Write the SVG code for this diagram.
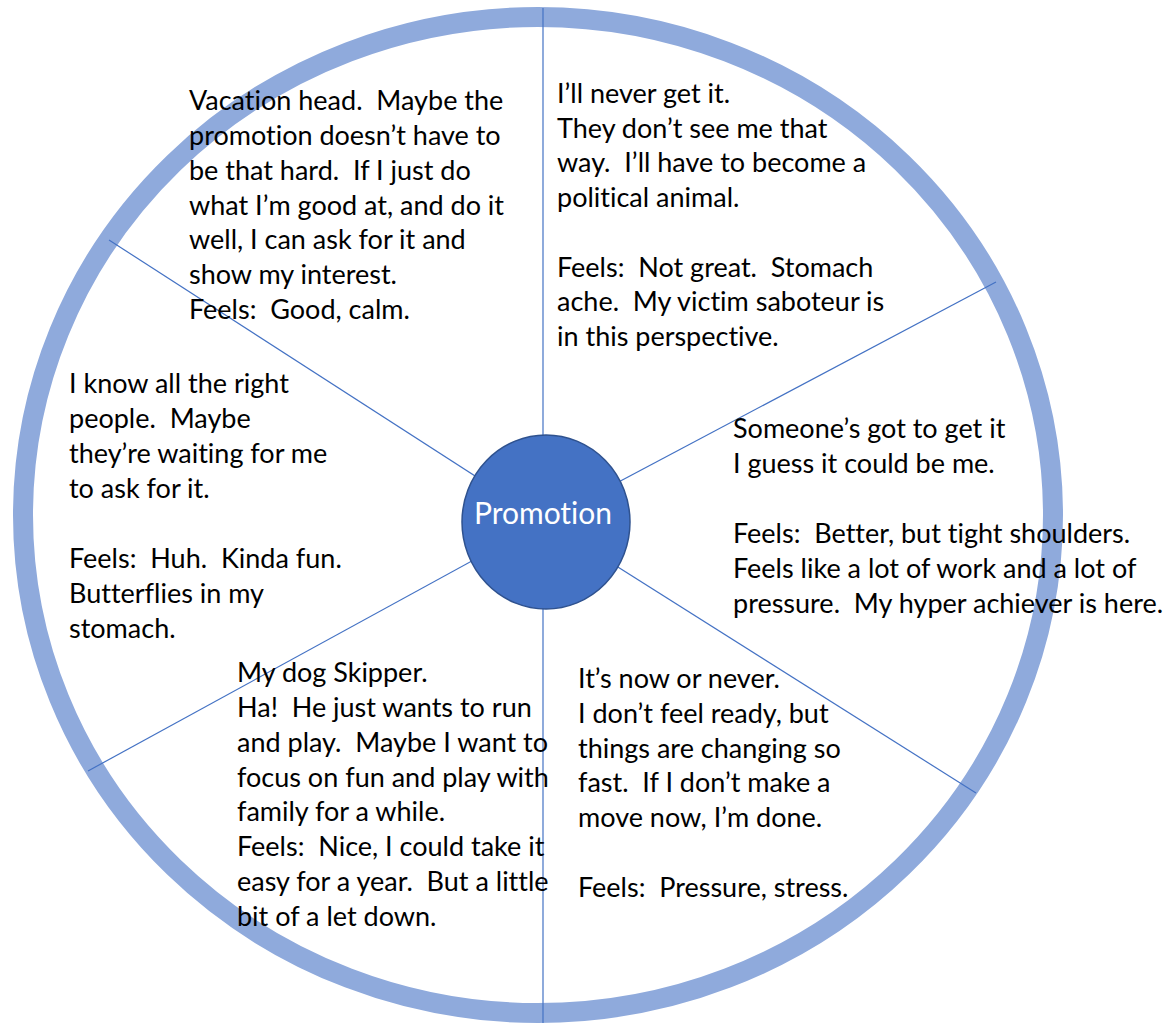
<svg xmlns="http://www.w3.org/2000/svg" width="1169" height="1024" viewBox="0 0 1169 1024">
<style>
.t{font-family:Lato,"Open Sans","Liberation Sans",sans-serif;font-size:27px;fill:#000;white-space:pre;font-variant-ligatures:none;font-feature-settings:"liga" 0,"clig" 0}
.spoke{stroke:#4472C4;stroke-width:1.2;fill:none}
.ring{fill:none;stroke:#8FAADC;stroke-width:20}
.hub{fill:#4472C4;stroke:#2F528F;stroke-width:1.5}
.hubt{font-family:Lato,"Open Sans","Liberation Sans",sans-serif;font-size:30px;fill:#fff;text-anchor:middle;font-variant-ligatures:none;font-feature-settings:"liga" 0,"clig" 0}
</style>
<rect width="1169" height="1024" fill="#fff"/>
<g id="ring"><ellipse class="ring" cx="538" cy="515" rx="515" ry="498"/></g>
<g id="connectors">
<line class="spoke" x1="543" y1="8" x2="543" y2="1023"/>
<line class="spoke" x1="109" y1="240" x2="545" y2="521"/>
<line class="spoke" x1="996" y1="282" x2="545" y2="521"/>
<line class="spoke" x1="88" y1="771" x2="545" y2="521"/>
<line class="spoke" x1="976" y1="793" x2="545" y2="521"/>
</g>
<g id="hub"><ellipse class="hub" cx="546" cy="522" rx="84" ry="87"/><text class="hubt" x="543" y="524">Promotion</text></g>
<g id="vacation">
<text class="t" x="189" y="110">Vacation head.  Maybe the</text>
<text class="t" x="189" y="145">promotion doesn’t have to</text>
<text class="t" x="189" y="180">be that hard.  If I just do</text>
<text class="t" x="189" y="215">what I’m good at, and do it</text>
<text class="t" x="189" y="249">well, I can ask for it and</text>
<text class="t" x="189" y="284">show my interest.</text>
<text class="t" x="189" y="319">Feels:  Good, calm.</text>
</g>
<g id="never">
<text class="t" x="557" y="103">I’ll never get it.</text>
<text class="t" x="557" y="138">They don’t see me that</text>
<text class="t" x="557" y="172">way.  I’ll have to become a</text>
<text class="t" x="557" y="207">political animal.</text>
<text class="t" x="557" y="277">Feels:  Not great.  Stomach</text>
<text class="t" x="557" y="311">ache.  My victim saboteur is</text>
<text class="t" x="557" y="346">in this perspective.</text>
</g>
<g id="someone">
<text class="t" x="733" y="438">Someone’s got to get it</text>
<text class="t" x="733" y="473">I guess it could be me.</text>
<text class="t" x="733" y="543">Feels:  Better, but tight shoulders.</text>
<text class="t" x="733" y="578">Feels like a lot of work and a lot of</text>
<text class="t" x="733" y="613">pressure.  My hyper achiever is here.</text>
</g>
<g id="nowornever">
<text class="t" x="578" y="688">It’s now or never.</text>
<text class="t" x="578" y="723">I don’t feel ready, but</text>
<text class="t" x="578" y="758">things are changing so</text>
<text class="t" x="578" y="792">fast.  If I don’t make a</text>
<text class="t" x="578" y="827">move now, I’m done.</text>
<text class="t" x="578" y="897">Feels:  Pressure, stress.</text>
</g>
<g id="skipper">
<text class="t" x="237" y="682">My dog Skipper.</text>
<text class="t" x="237" y="717">Ha!  He just wants to run</text>
<text class="t" x="237" y="752">and play.  Maybe I want to</text>
<text class="t" x="237" y="787">focus on fun and play with</text>
<text class="t" x="237" y="821">family for a while.</text>
<text class="t" x="237" y="856">Feels:  Nice, I could take it</text>
<text class="t" x="237" y="891">easy for a year.  But a little</text>
<text class="t" x="237" y="926">bit of a let down.</text>
</g>
<g id="rightpeople">
<text class="t" x="69" y="393">I know all the right</text>
<text class="t" x="69" y="428">people.  Maybe</text>
<text class="t" x="69" y="463">they’re waiting for me</text>
<text class="t" x="69" y="498">to ask for it.</text>
<text class="t" x="69" y="568">Feels:  Huh.  Kinda fun.</text>
<text class="t" x="69" y="603">Butterflies in my</text>
<text class="t" x="69" y="638">stomach.</text>
</g>
</svg>
